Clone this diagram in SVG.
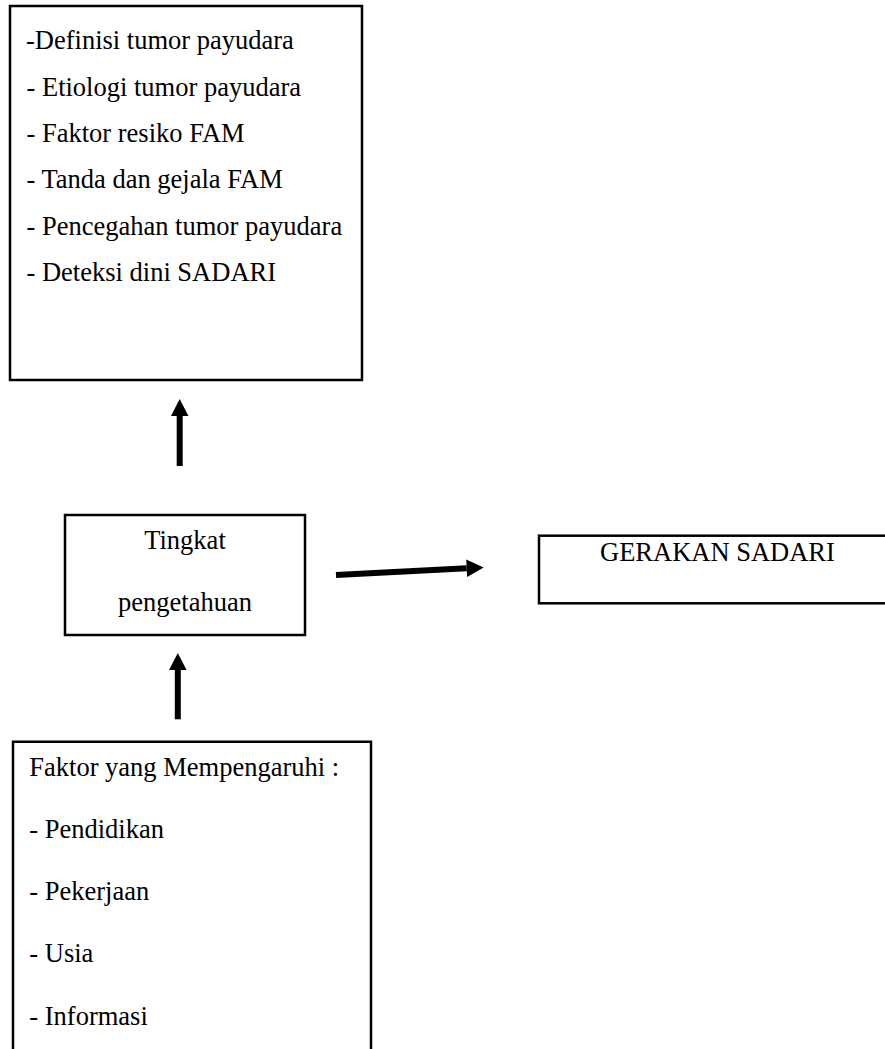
<svg xmlns="http://www.w3.org/2000/svg" width="885" height="1049" viewBox="0 0 885 1049">
  <style>
    .box { fill: #ffffff; stroke: #000000; stroke-width: 2.5; }
    .t { font-family: "Liberation Serif", "Times New Roman", serif; font-size: 26.5px; fill: #000000; }
    .mid { text-anchor: middle; }
    .conn { stroke: #000000; stroke-width: 6; fill: none; marker-end: url(#head); }
  </style>
  <defs>
    <marker id="head" markerUnits="userSpaceOnUse" markerWidth="18" markerHeight="18" refX="0" refY="8.75" orient="auto" overflow="visible">
      <path d="M0,0 L17,8.75 L0,17.5 Z" fill="#000000"/>
    </marker>
  </defs>
  <rect width="885" height="1049" fill="#ffffff"/>

  <g id="node-materi">
    <rect class="box" x="10" y="6" width="352" height="374"/>
    <text class="t" x="26" y="49.3">-Definisi tumor payudara</text>
    <text class="t" x="26.5" y="95.7">- Etiologi tumor payudara</text>
    <text class="t" x="26.5" y="141.7">- Faktor resiko FAM</text>
    <text class="t" x="26.5" y="188.3">- Tanda dan gejala FAM</text>
    <text class="t" x="26.5" y="235">- Pencegahan tumor payudara</text>
    <text class="t" x="26.5" y="281">- Deteksi dini SADARI</text>
  </g>

  <g id="node-tingkat">
    <rect class="box" x="65" y="515" width="240" height="120"/>
    <text class="t mid" x="185" y="549.3">Tingkat</text>
    <text class="t mid" x="185" y="611">pengetahuan</text>
  </g>

  <g id="node-gerakan">
    <rect class="box" x="539" y="535.7" width="360" height="67.6"/>
    <text class="t" x="600" y="560.7">GERAKAN SADARI</text>
  </g>

  <g id="node-faktor">
    <path class="box" d="M13,1060 L13,741.7 L371,741.7 L371,1060" fill="#ffffff"/>
    <text class="t" x="29.3" y="776">Faktor yang Mempengaruhi :</text>
    <text class="t" x="29.3" y="838.3">- Pendidikan</text>
    <text class="t" x="29.3" y="900">- Pekerjaan</text>
    <text class="t" x="29.3" y="961.7">- Usia</text>
    <text class="t" x="29.3" y="1025">- Informasi</text>
  </g>

  <g id="connectors">
    <line class="conn" x1="179.7" y1="466" x2="179.7" y2="416"/>
    <line class="conn" x1="177.8" y1="719.3" x2="177.8" y2="670"/>
    <line class="conn" x1="336" y1="575" x2="466.7" y2="568.3"/>
  </g>
</svg>
